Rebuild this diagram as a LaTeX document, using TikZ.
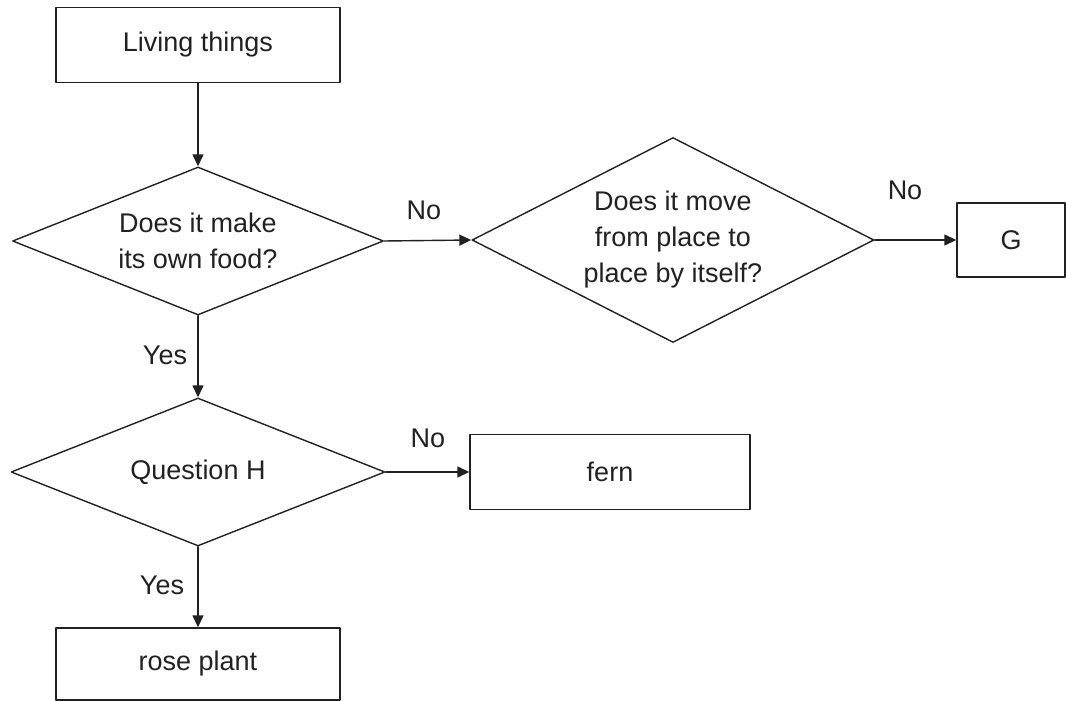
\documentclass[tikz,border=0pt]{standalone}
\usepackage{fontspec}
\setmainfont{Liberation Sans}
\usetikzlibrary{arrows.meta,shapes.geometric}
\definecolor{ink}{rgb}{0.13,0.13,0.13}

\tikzset{
  flowbox/.style={draw=ink,line width=1.4pt,rectangle,inner sep=0pt,text=ink},
  decide/.style={draw=ink,line width=1.4pt,diamond,inner sep=0pt,text=ink,align=center},
  flowlbl/.style={text=ink,inner sep=0pt}
}

\begin{document}
\begin{tikzpicture}[line cap=round,line join=round,>={Triangle[length=12pt,width=11pt]},x=1pt,y=-1pt,
  font=\fontsize{27}{36}\selectfont]
\useasboundingbox (0,0) rectangle (1066,701);
%\draw[help lines,step=50] (0,0) grid (1066,701);
\node[flowbox,minimum width=284,minimum height=75] (living) at (198,45) {Living things};
\node[decide,shape aspect=2.5,minimum width=371,minimum height=148] (q1) at (198,241) {Does it make\\its own food?};
\node[decide,shape aspect=1.96,minimum width=402,minimum height=205] (q2) at (673,240) {Does it move\\from place to\\place by itself?};
\node[flowbox,minimum width=108,minimum height=74] (G) at (1011,240) {G};
\node[decide,shape aspect=2.5,minimum width=374,minimum height=148] (qH) at (198,472) {Question H};
\node[flowbox,minimum width=280,minimum height=75] (fern) at (610,472) {fern};
\node[flowbox,minimum width=284,minimum height=72] (rose) at (198,664) {rose plant};
\draw [->,draw=ink,fill=ink,line width=1.4pt] (living) -- (q1);
\draw [->,draw=ink,fill=ink,line width=1.4pt] (q1.east) -- (q2.west);
\draw [->,draw=ink,fill=ink,line width=1.4pt] (q2.east) -- (G.west);
\draw [->,draw=ink,fill=ink,line width=1.4pt] (q1.south) -- (qH.north);
\draw [->,draw=ink,fill=ink,line width=1.4pt] (qH.east) -- (fern.west);
\draw [->,draw=ink,fill=ink,line width=1.4pt] (qH.south) -- (rose.north);
\node[flowlbl] (no1) at (424,210) {No};
\node[flowlbl] (no2) at (905,190) {No};
\node[flowlbl] (no3) at (428,438) {No};
\node[flowlbl] (yes1) at (165,355) {Yes};
\node[flowlbl] (yes2) at (162,585) {Yes};
\end{tikzpicture}
\end{document}
